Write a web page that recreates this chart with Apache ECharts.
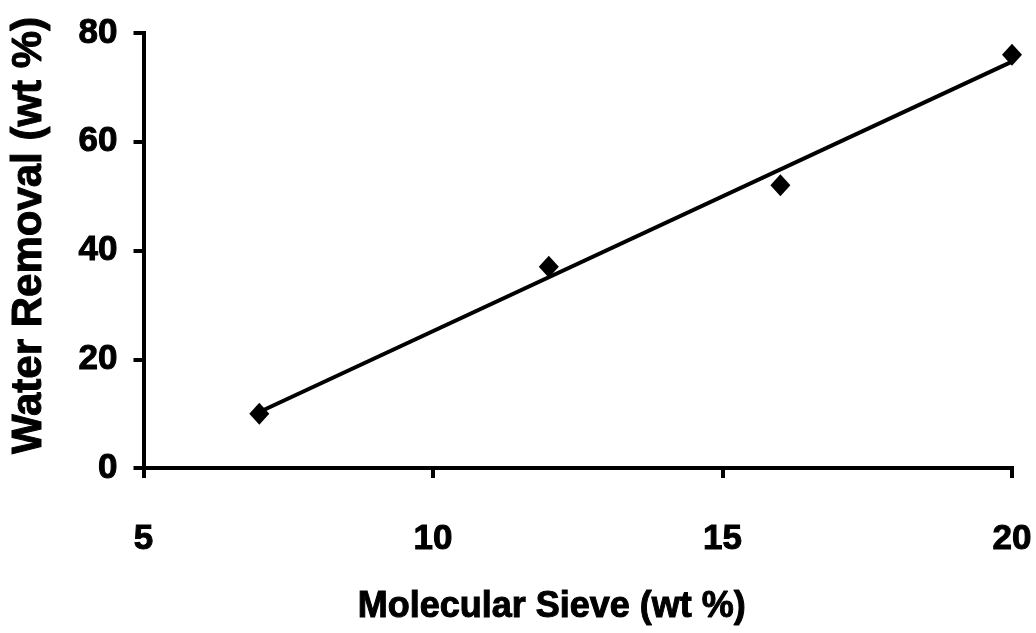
<!DOCTYPE html>
<html>
<head>
<meta charset="utf-8">
<style>
  html, body { margin: 0; padding: 0; background: #ffffff; }
  #chart { width: 1036px; height: 633px; }
</style>
<script src="https://cdn.jsdelivr.net/npm/echarts@6/dist/echarts.min.js"></script>
</head>
<body>
<div id="chart"></div>
<script>
// Molecular sieve loading (wt %) and resulting water removal (wt %)
const sieveLoading = [7, 12, 16, 20];
const waterRemoval = [10, 37, 52, 76];

// Axis tick values
const xTicks = [5, 10, 15, 20];
const yTicks = [0, 20, 40, 60, 80];

// Least-squares linear trend through the measured points
function linearFit(xs, ys) {
  const n = xs.length;
  const mx = xs.reduce((a, b) => a + b, 0) / n;
  const my = ys.reduce((a, b) => a + b, 0) / n;
  let sxy = 0, sxx = 0;
  for (let i = 0; i < n; i++) {
    sxy += (xs[i] - mx) * (ys[i] - my);
    sxx += (xs[i] - mx) * (xs[i] - mx);
  }
  const slope = sxy / sxx;
  return { slope, intercept: my - slope * mx };
}
const fit = linearFit(sieveLoading, waterRemoval);
const xFirst = Math.min(...sieveLoading);
const xLast = Math.max(...sieveLoading);
const trendPoints = [xFirst, xLast].map(x => [x, fit.intercept + fit.slope * x]);

const FONT = '"Liberation Sans", Arial, Helvetica, sans-serif';
const heavyText = (size) => ({
  color: '#000',
  fontFamily: FONT,
  fontWeight: 'bold',
  fontSize: size,
  textBorderColor: '#000',
  textBorderWidth: 1
});
const axisLine = { show: true, onZero: false, lineStyle: { color: '#000', width: 4, cap: 'square' } };
const axisTick = { show: true, inside: false, length: 10, lineStyle: { color: '#000', width: 4 } };

const chart = echarts.init(document.getElementById('chart'), null, { renderer: 'canvas' });
chart.setOption({
  backgroundColor: '#ffffff',
  animation: false,
  grid: { left: 143, right: 24, top: 33, bottom: 165, containLabel: false },
  xAxis: {
    type: 'value',
    min: xTicks[0],
    max: xTicks[xTicks.length - 1],
    interval: xTicks[1] - xTicks[0],
    splitLine: { show: false },
    axisLine, axisTick,
    axisLabel: Object.assign({ margin: 54 }, heavyText(35)),
    name: 'Molecular Sieve (wt %)',
    nameLocation: 'middle',
    nameGap: 121,
    nameTextStyle: Object.assign(heavyText(36), { padding: [0, 52, 0, 0] })
  },
  yAxis: {
    type: 'value',
    min: yTicks[0],
    max: yTicks[yTicks.length - 1],
    interval: yTicks[1] - yTicks[0],
    splitLine: { show: false },
    axisLine, axisTick,
    axisLabel: Object.assign({ margin: 26 }, heavyText(35)),
    name: 'Water Removal (wt %)',
    nameLocation: 'middle',
    nameGap: 93,
    nameRotate: 90,
    nameTextStyle: Object.assign(heavyText(42), { padding: [0, 0, 0, 30] })
  },
  series: [
    {
      name: 'Linear trend',
      type: 'line',
      data: trendPoints,
      showSymbol: false,
      symbol: 'none',
      lineStyle: { color: '#000', width: 4 },
      z: 2
    },
    {
      name: 'Water removal',
      type: 'scatter',
      data: sieveLoading.map((x, i) => [x, waterRemoval[i]]),
      symbol: 'diamond',
      symbolSize: [20, 22],
      itemStyle: { color: '#000', opacity: 1 },
      z: 3
    }
  ]
});
</script>
</body>
</html>
